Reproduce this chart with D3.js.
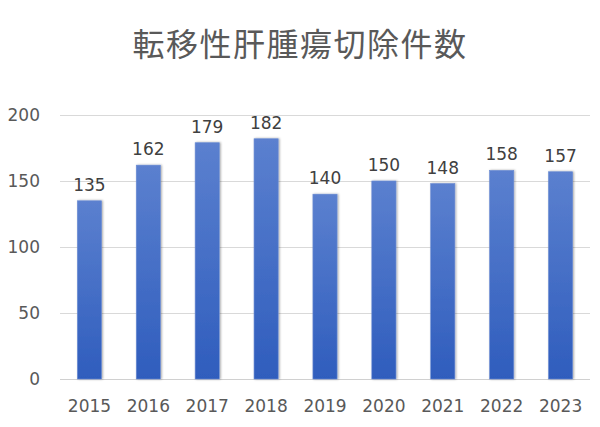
<!DOCTYPE html>
<html>
<head>
<meta charset="utf-8">
<script src="https://cdn.jsdelivr.net/npm/d3@7"></script>
<style>
  body { margin: 0; background: #fff; }
  svg text { font-family: "DejaVu Sans", "Open Sans", sans-serif; }
</style>
</head>
<body>
<div id="chart"></div>
<script>
// data
var years = ["2015", "2016", "2017", "2018", "2019", "2020", "2021", "2022", "2023"]
var counts = [135, 162, 179, 182, 140, 150, 148, 158, 157]
var yTicks = [0, 50, 100, 150, 200]
var title = "転移性肝腫瘍切除件数"

var width = 600
var height = 427
var margin = {left: 60, top: 115, right: 10, bottom: 48}

var svg = d3.select("#chart")
            .append("svg")
            .attr("width", width)
            .attr("height", height)

// gradient for the bars, lighter on top
var defs = svg.append("defs")
var grad = defs.append("linearGradient")
               .attr("id", "barGrad")
               .attr("x1", 0).attr("y1", 0).attr("x2", 0).attr("y2", 1)
grad.append("stop").attr("offset", "0%").attr("stop-color", "#5b80cf")
grad.append("stop").attr("offset", "100%").attr("stop-color", "#2f5dbd")

var shadow = defs.append("filter").attr("id", "shadow")
                 .attr("x", "-30%").attr("y", "-10%").attr("width", "160%").attr("height", "120%")
shadow.append("feDropShadow")
      .attr("dx", 1).attr("dy", 0).attr("stdDeviation", 1.2)
      .attr("flood-color", "#000").attr("flood-opacity", 0.35)

var x = d3.scaleBand()
          .domain(years)
          .range([margin.left, width - margin.right])
          .paddingInner(0.59)
          .paddingOuter(0.295)

var y = d3.scaleLinear()
          .domain([0, 200])
          .range([height - margin.bottom, margin.top])

// title
svg.append("text")
   .attr("x", 300)
   .attr("y", 56)
   .attr("text-anchor", "middle")
   .style("font-family", "'Noto Sans CJK JP', sans-serif")
   .style("font-size", "32px")
   .style("letter-spacing", "1.5px")
   .style("fill", "#595959")
   .text(title)

// gridlines
svg.append("g")
   .selectAll("line")
   .data(yTicks)
   .enter()
   .append("line")
   .attr("x1", margin.left)
   .attr("x2", width - margin.right)
   .attr("y1", d => y(d) + 0.5)
   .attr("y2", d => y(d) + 0.5)
   .style("stroke", d => d === 0 ? "#d0d0d0" : "#d9d9d9")
   .style("stroke-width", 1)

// y axis
var yAxis = d3.axisLeft(y).tickValues(yTicks).tickSize(0).tickPadding(20)
svg.append("g")
   .attr("transform", "translate(" + margin.left + ",0)")
   .call(yAxis)
   .call(g => g.select(".domain").remove())
   .selectAll("text")
   .style("font-family", "'DejaVu Sans', sans-serif")
   .style("font-size", "17px")
   .style("fill", "#595959")

// x axis
var xAxis = d3.axisBottom(x).tickSize(0).tickPadding(21)
svg.append("g")
   .attr("transform", "translate(0," + y(0) + ")")
   .call(xAxis)
   .call(g => g.select(".domain").remove())
   .selectAll("text")
   .style("font-family", "'DejaVu Sans', sans-serif")
   .style("font-size", "17px")
   .style("fill", "#595959")

// bars
svg.append("g")
   .selectAll("rect")
   .data(years)
   .enter()
   .append("rect")
   .attr("x", (d, i) => x(d))
   .attr("y", (d, i) => y(counts[i]))
   .attr("width", x.bandwidth())
   .attr("height", (d, i) => y(0) - y(counts[i]))
   .style("fill", "url(#barGrad)")
   .style("stroke", "#6a8bd3")
   .style("stroke-width", 0.6)
   .attr("filter", "url(#shadow)")

// value labels
svg.append("g")
   .selectAll("text")
   .data(years)
   .enter()
   .append("text")
   .attr("x", d => x(d) + x.bandwidth() / 2)
   .attr("y", (d, i) => y(counts[i]) - 10)
   .attr("text-anchor", "middle")
   .style("font-size", "17px")
   .style("fill", "#404040")
   .text((d, i) => counts[i])
</script>
</body>
</html>
